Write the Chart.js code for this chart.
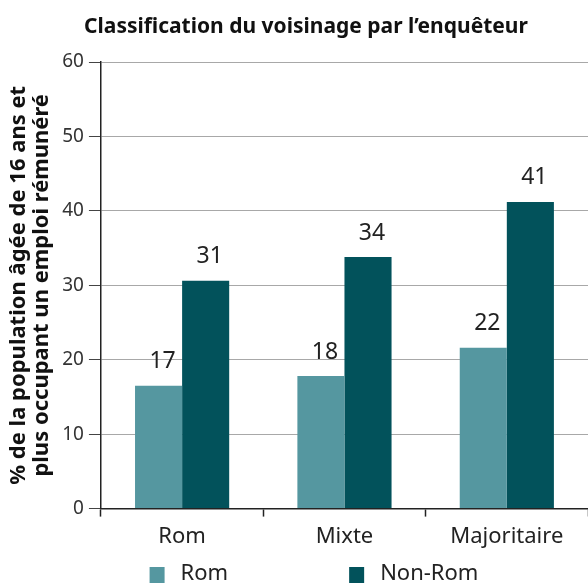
<!DOCTYPE html>
<html>
<head>
<meta charset="utf-8">
<script src="https://cdn.jsdelivr.net/npm/chart.js@4.4.1/dist/chart.umd.min.js"></script>
<style>
  body { margin: 0; background: #fff; }
  #wrap { width: 588px; height: 583px; }
</style>
</head>
<body>
<div id="wrap"><canvas id="chart" width="588" height="583"></canvas></div>
<script>
// data
var categories = ['Rom', 'Mixte', 'Majoritaire'];
var romValues = [16.5, 17.8, 21.6];
var nonRomValues = [30.6, 33.8, 41.2];
var seriesNames = ['Rom', 'Non-Rom'];
var chartTitle = 'Classification du voisinage par l’enquêteur';
var yTitle = ['% de la population âgée de 16 ans et', 'plus occupant un emploi rémunéré'];

var FONT = "'Noto Sans', 'Open Sans', sans-serif";

// title, value labels and legend drawn on the canvas
var extras = {
    id: 'extras',
    afterDatasetsDraw: function (chart) {
        var ctx = chart.ctx;
        ctx.save();
        ctx.fillStyle = '#222';
        ctx.font = '23px ' + FONT;
        ctx.textAlign = 'center';
        ctx.textBaseline = 'middle';
        chart.data.datasets.forEach(function (ds, i) {
            var meta = chart.getDatasetMeta(i);
            meta.data.forEach(function (bar, j) {
                ctx.fillText(String(Math.round(ds.data[j])), bar.x + 4, bar.y - 24);
            });
        });
        ctx.restore();
    },
    afterDraw: function (chart) {
        var ctx = chart.ctx;
        ctx.save();
        // title
        ctx.fillStyle = '#111';
        ctx.font = 'bold 21px ' + FONT;
        ctx.textAlign = 'center';
        ctx.textBaseline = 'alphabetic';
        ctx.fillText(chartTitle, 306, 33);

        // legend
        ctx.font = '22px ' + FONT;
        ctx.textAlign = 'left';
        ctx.textBaseline = 'middle';
        var box = 15, gapText = 16, gapItem = 121;
        var widths = chart.data.datasets.map(function (ds) {
            return box + gapText + ctx.measureText(ds.label).width;
        });
        var total = widths.reduce(function (a, b) { return a + b; }, 0) + gapItem * (widths.length - 1);
        var x = 314 - total / 2;
        var y = 574;
        chart.data.datasets.forEach(function (ds, i) {
            ctx.fillStyle = ds.backgroundColor;
            ctx.fillRect(x, y - 7, box, 16);
            ctx.fillStyle = '#222';
            ctx.fillText(ds.label, x + box + gapText, y);
            x += widths[i] + gapItem;
        });
        ctx.restore();
    }
};

var chart = new Chart(document.getElementById('chart'), {
    type: 'bar',
    data: {
        labels: categories,
        datasets: [{
            label: seriesNames[0],
            data: romValues,
            backgroundColor: '#5597a0',
            categoryPercentage: 0.58,
            barPercentage: 1.0
        }, {
            label: seriesNames[1],
            data: nonRomValues,
            backgroundColor: '#02525b',
            categoryPercentage: 0.58,
            barPercentage: 1.0
        }]
    },
    options: {
        responsive: false,
        animation: false,
        layout: {
            padding: { top: 62, bottom: 26, left: 0, right: 0 }
        },
        plugins: {
            legend: { display: false },
            title: { display: false },
            tooltip: { enabled: false }
        },
        scales: {
            x: {
                grid: {
                    offset: true,
                    drawOnChartArea: false,
                    drawTicks: true,
                    tickLength: 8,
                    tickColor: '#222',
                    tickWidth: 1.5
                },
                border: { color: '#222', width: 1.5 },
                ticks: {
                    color: '#222',
                    padding: 7,
                    font: { family: FONT, size: 22 }
                }
            },
            y: {
                min: 0,
                max: 60,
                ticks: {
                    stepSize: 10,
                    color: '#333',
                    padding: 5,
                    font: { family: FONT, size: 19 }
                },
                grid: {
                    color: '#a8a8a8',
                    lineWidth: 1,
                    drawTicks: true,
                    tickLength: 12,
                    tickColor: '#444'
                },
                border: { color: '#222', width: 1.5 },
                title: {
                    display: true,
                    text: yTitle,
                    color: '#111',
                    font: { family: FONT, size: 22, weight: 'bold', lineHeight: 1.05 },
                    padding: { top: 7, bottom: 4 }
                }
            }
        }
    },
    plugins: [extras]
});
</script>
</body>
</html>
